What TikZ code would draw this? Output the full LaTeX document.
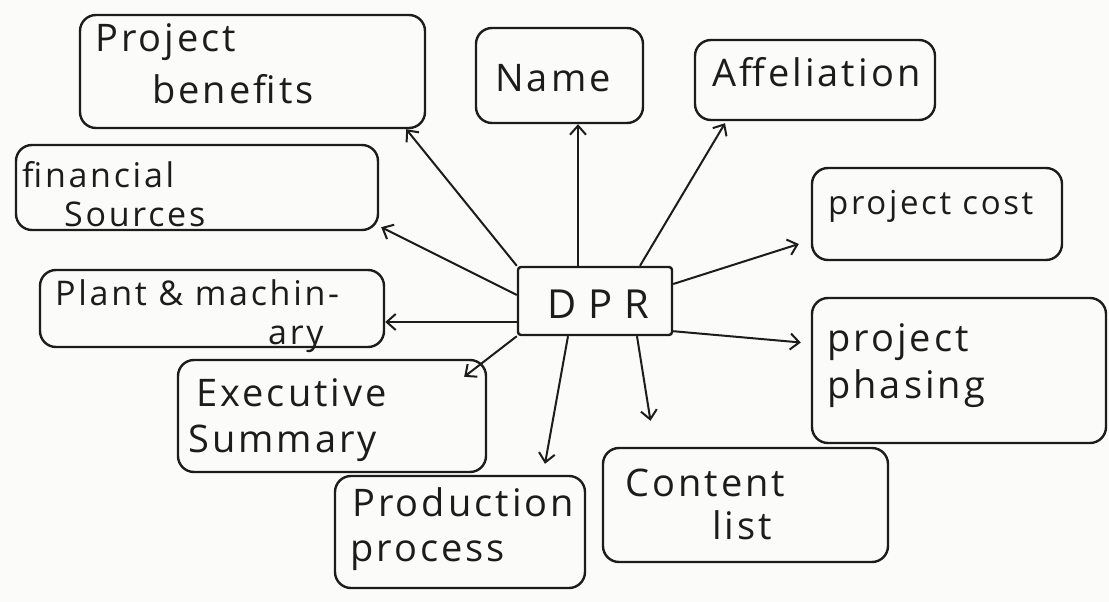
\documentclass[tikz,border=0pt]{standalone}
\usepackage{fontspec}
\setmainfont{Open Sans}[LetterSpace=8]
\usetikzlibrary{arrows.meta}
\definecolor{ink}{HTML}{1C1C1C}
\definecolor{paper}{HTML}{FBFBFA}
\begin{document}
\begin{tikzpicture}[x=1pt,y=-1pt,
  box/.style={draw=ink, line width=2.4pt, rounded corners=16pt, inner sep=0pt},
  txt/.style={anchor=base west, inner sep=0pt, text=ink, font=\fontsize{38}{44}\selectfont},
  small/.style={font=\fontsize{34}{40}\selectfont},
  arr/.style={draw=ink, line width=2pt, -{Straight Barb[length=9pt,width=16pt,line width=2pt]}}]
% page
\fill[paper] (0,0) rectangle (1109,602);
\useasboundingbox (0,0) rectangle (1109,602);

% boxes
\node[box, minimum width=345pt, minimum height=113pt] (ben)     at (252.5,71.5) {};
\node[box, minimum width=167pt, minimum height=95pt]  (name)    at (559.5,75.5) {};
\node[box, minimum width=240pt, minimum height=80pt]  (affil)   at (815,80) {};
\node[box, minimum width=362pt, minimum height=85pt]  (fin)     at (197,187.5) {};
\node[box, minimum width=250pt, minimum height=92pt]  (cost)    at (937,214) {};
\node[box, minimum width=154pt, minimum height=68pt, rounded corners=3pt] (dpr) at (595,301) {};
\node[box, minimum width=344pt, minimum height=77pt]  (plant)   at (212,308.5) {};
\node[box, minimum width=294pt, minimum height=145pt] (phase)   at (959,370.5) {};
\node[box, minimum width=308pt, minimum height=112pt] (exec)    at (332,416) {};
\node[box, minimum width=250pt, minimum height=112pt] (prod)    at (460,532) {};
\node[box, minimum width=285pt, minimum height=114pt] (content) at (745.5,505) {};

% labels
\node[txt] (benA) at (95,52) {Project};
\node[txt] (benB) at (152,103) {benefits};
\node[txt] (nameT) at (495,92) {Name};
\node[txt] (affilT) at (712,86) {Affeliation};
\node[txt, small] (finA) at (22,187) {financial};
\node[txt, small] (finB) at (64,226) {Sources};
\node[txt, font=\fontsize{33}{38}\selectfont] (costT) at (828,214) {project cost};
\node[txt, font=\fontsize{40}{44}\selectfont] (dprT) at (547,318) {D\kern12pt P\kern12pt R};
\node[txt, small] (plantA) at (55,305) {Plant \& machin-};
\node[txt, small] (plantB) at (268,344) {ary};
\node[txt] (phaseA) at (827,351) {project};
\node[txt] (phaseB) at (827,398) {phasing};
\node[txt] (execA) at (196,406) {Executive};
\node[txt] (execB) at (188,452) {Summary};
\node[txt] (prodA) at (352,516) {Production};
\node[txt] (prodB) at (350,561) {process};
\node[txt] (contA) at (625,496) {Content};
\node[txt] (contB) at (712,539) {list};

% connectors from DPR
\draw[arr] (dpr.north west) -- ([xshift=-20pt]ben.south east);
\draw[arr] ([xshift=-17pt]dpr.north) -- ([xshift=-17pt]dpr.north |- name.south);
\draw[arr] ([xshift=45pt]dpr.north) -- ([xshift=-90pt,yshift=-2pt]affil.south);
\draw[arr] ([yshift=6pt]dpr.west) -- ([xshift=2pt,yshift=4pt]fin.south east);
\draw[arr] ([yshift=-21pt]dpr.west) -- ([yshift=-21pt]dpr.west -| plant.east);
\draw[arr] (dpr.south west) -- ([xshift=-23pt,yshift=-18pt]exec.north east);
\draw[arr] ([xshift=-27pt]dpr.south) -- ([xshift=85pt,yshift=11pt]prod.north);
\draw[arr] ([xshift=42pt]dpr.south) -- ([xshift=-95pt,yshift=26pt]content.north);
\draw[arr] ([yshift=17pt]dpr.east) -- ([xshift=-12pt,yshift=-30pt]cost.west);
\draw[arr] ([yshift=5pt]dpr.south east) -- ([xshift=-10pt,yshift=28pt]phase.west);
\end{tikzpicture}
\end{document}
